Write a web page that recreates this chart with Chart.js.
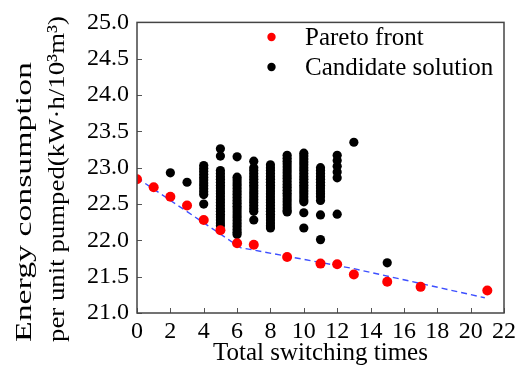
<!DOCTYPE html>
<html>
<head>
<meta charset="utf-8">
<script src="https://cdn.jsdelivr.net/npm/chart.js@4.4.1/dist/chart.umd.min.js"></script>
<style>
  html, body { margin: 0; padding: 0; background: #fff; }
  #wrap { width: 522px; height: 376px; }
</style>
</head>
<body>
<div id="wrap"><canvas id="c"></canvas></div>
<script>
// Données
const xTicks = [0, 2, 4, 6, 8, 10, 12, 14, 16, 18, 20, 22];
const yTicks = [21.0, 21.5, 22.0, 22.5, 23.0, 23.5, 24.0, 24.5, 25.0];
const yTitleLines = ['Energy consumption', 'per unit pumped(kW\u00b7h/10\u00b3m\u00b3)'];

// Front de Pareto (points rouges)
const paretoX = [0, 1, 2, 3, 4, 5, 6, 7, 9, 11, 12, 13, 15, 17, 21];
const paretoY = [22.84, 22.73, 22.60, 22.48, 22.28, 22.14, 21.96, 21.94, 21.77, 21.68, 21.67, 21.53, 21.43, 21.36, 21.31];

// Courbe de tendance (tirets bleus)
const trendX = [0, 6.2, 13, 20.85];
const trendY = [22.86, 21.90, 21.61, 21.21];

// Solutions candidates (points noirs), une liste par colonne
const candX = [2, 3, 4, 5, 6, 7, 8, 9, 10, 11, 12, 13, 15];
const candY = [
  [22.93],
  [22.80],
  [23.03, 22.99, 22.95, 22.91, 22.87, 22.83, 22.79, 22.75, 22.71, 22.67, 22.63, 22.50],
  [23.26, 23.16, 22.96, 22.92, 22.88, 22.84, 22.80, 22.76, 22.72, 22.68, 22.64, 22.60, 22.56, 22.52, 22.48, 22.44, 22.40, 22.36, 22.32, 22.28, 22.24, 22.20],
  [23.15, 22.87, 22.83, 22.79, 22.75, 22.71, 22.67, 22.63, 22.59, 22.55, 22.51, 22.47, 22.43, 22.39, 22.35, 22.31, 22.27, 22.23, 22.19, 22.15, 22.11, 22.08],
  [23.09, 23.00, 22.96, 22.92, 22.88, 22.84, 22.80, 22.76, 22.72, 22.68, 22.64, 22.60, 22.56, 22.52, 22.48, 22.44, 22.40, 22.28],
  [23.04, 23.00, 22.96, 22.92, 22.88, 22.84, 22.80, 22.76, 22.72, 22.68, 22.64, 22.60, 22.56, 22.52, 22.48, 22.44, 22.40, 22.36, 22.32, 22.28, 22.24, 22.20, 22.17],
  [23.17, 23.13, 23.09, 23.05, 23.01, 22.97, 22.93, 22.89, 22.85, 22.81, 22.77, 22.73, 22.69, 22.65, 22.61, 22.57, 22.53, 22.49, 22.45, 22.41, 22.39],
  [23.20, 23.16, 23.12, 23.08, 23.04, 23.00, 22.96, 22.92, 22.88, 22.84, 22.80, 22.76, 22.72, 22.68, 22.64, 22.60, 22.56, 22.53, 22.38, 22.17],
  [23.00, 22.96, 22.92, 22.88, 22.84, 22.80, 22.76, 22.72, 22.68, 22.64, 22.60, 22.55, 22.35, 22.01],
  [23.17, 23.10, 23.02, 22.94, 22.86, 22.36],
  [23.35],
  [21.69]
];

const FONT = "'Liberation Serif', 'Times New Roman', serif";

let candPoints = [];
candX.forEach((x, i) => candY[i].forEach(y => candPoints.push({x: x, y: y})));
const paretoPoints = paretoX.map((x, i) => ({x: x, y: paretoY[i]}));
const trendPoints = trendX.map((x, i) => ({x: x, y: trendY[i]}));

// Cadre + graduations vers l'intérieur
const framePlugin = {
  id: 'frame',
  afterDraw(chart) {
    const ctx = chart.ctx;
    const a = chart.chartArea;
    const xs = chart.scales.x, ys = chart.scales.y;
    ctx.save();
    ctx.strokeStyle = '#555';
    ctx.lineWidth = 1;
    ctx.beginPath();
    xs.ticks.forEach(t => {
      const px = Math.round(xs.getPixelForValue(t.value)) + 0.5;
      ctx.moveTo(px, a.bottom); ctx.lineTo(px, a.bottom - 5);
    });
    ys.ticks.forEach(t => {
      const py = Math.round(ys.getPixelForValue(t.value)) + 0.5;
      ctx.moveTo(a.left, py); ctx.lineTo(a.left + 5, py);
    });
    ctx.stroke();
    ctx.strokeStyle = '#444';
    ctx.lineWidth = 1.5;
    ctx.strokeRect(a.left, a.top, a.right - a.left, a.bottom - a.top);
    ctx.restore();
  }
};

// Titre de l'axe Y (2 lignes, alignées en bas, texte étiré comme sur la figure)
const yTitlePlugin = {
  id: 'yTitle',
  afterDraw(chart) {
    const ctx = chart.ctx;
    const base = [31, 64];
    const lengths = [280, 326];
    yTitleLines.forEach((txt, i) => {
      ctx.save();
      ctx.fillStyle = '#000';
      ctx.textAlign = 'left';
      ctx.textBaseline = 'alphabetic';
      ctx.font = '24px ' + FONT;
      const w = ctx.measureText(txt).width;
      ctx.translate(base[i], 342);
      ctx.rotate(-Math.PI / 2);
      ctx.scale(lengths[i] / w, 1);
      ctx.fillText(txt, 0, 0);
      ctx.restore();
    });
  }
};

// Légende dessinée dans la zone du graphique
const legendPlugin = {
  id: 'insideLegend',
  afterDraw(chart) {
    const ctx = chart.ctx;
    const items = chart.data.datasets.filter(d => d.showInLegend);
    ctx.save();
    ctx.font = '25px ' + FONT;
    ctx.textBaseline = 'middle';
    items.forEach((d, i) => {
      const y = 37 + i * 30;
      ctx.beginPath();
      ctx.arc(271.5, y, 4.2, 0, Math.PI * 2);
      ctx.fillStyle = d.backgroundColor;
      ctx.fill();
      ctx.fillStyle = '#000';
      ctx.fillText(d.label, 305, y + 1);
    });
    ctx.restore();
  }
};

new Chart(document.getElementById('c'), {
  type: 'scatter',
  data: {
    datasets: [
      {
        label: 'Pareto front',
        showInLegend: true,
        data: paretoPoints,
        backgroundColor: '#ff0000',
        borderWidth: 0,
        pointRadius: 5,
        order: 0
      },
      {
        label: 'trend',
        data: trendPoints,
        showLine: true,
        pointRadius: 0,
        borderColor: 'rgba(40,60,255,0.9)',
        borderWidth: 1.4,
        borderDash: [6, 4],
        order: 1
      },
      {
        label: 'Candidate solution',
        showInLegend: true,
        data: candPoints,
        backgroundColor: '#000000',
        borderWidth: 0,
        pointRadius: 4.6,
        order: 2
      }
    ]
  },
  options: {
    responsive: true,
    maintainAspectRatio: false,
    animation: false,
    devicePixelRatio: 1,
    layout: { padding: { left: 0, right: 18, top: 13, bottom: 0 } },
    plugins: { legend: { display: false }, tooltip: { enabled: false } },
    scales: {
      x: {
        type: 'linear',
        min: 0, max: 22,
        afterBuildTicks: s => { s.ticks = xTicks.map(v => ({value: v})); },
        afterFit: s => { s.height = 63; },
        grid: { display: false, drawTicks: false },
        border: { display: false },
        ticks: { color: '#000', font: { family: FONT, size: 24 }, padding: 4, maxRotation: 0, autoSkip: false },
        title: { display: true, text: 'Total switching times', color: '#000', font: { family: FONT, size: 25 }, padding: { top: 0, bottom: 8 } }
      },
      y: {
        type: 'linear',
        min: 21, max: 25,
        afterBuildTicks: s => { s.ticks = yTicks.map(v => ({value: v})); },
        afterFit: s => { s.width = 137; },
        grid: { display: false, drawTicks: false },
        border: { display: false },
        ticks: { color: '#000', font: { family: FONT, size: 24 }, padding: 8, callback: v => Number(v).toFixed(1), autoSkip: false },
        title: { display: false }
      }
    }
  },
  plugins: [framePlugin, yTitlePlugin, legendPlugin]
});
</script>
</body>
</html>
